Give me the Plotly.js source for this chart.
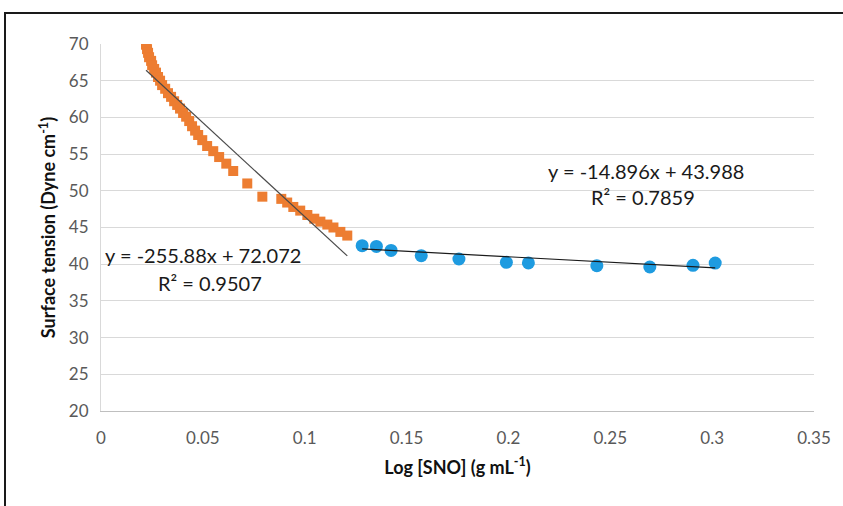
<!DOCTYPE html>
<html>
<head>
<meta charset="utf-8">
<script src="https://cdn.plot.ly/plotly-3.0.1.min.js"></script>
<style>
  html, body { margin: 0; padding: 0; background: #fff; overflow: hidden; }
  #chart { position: absolute; left: 0; top: 0; width: 843px; height: 506px; }
  #frame { position: absolute; left: 4px; top: 12px; width: 900px; height: 600px;
           border-top: 2px solid #1a1a1a; border-left: 2px solid #1a1a1a; pointer-events: none; }
</style>
</head>
<body>
<div id="chart"></div>
<div id="frame"></div>
<script>
// Series 1 (orange squares): Log[SNO] vs surface tension
const orangeX = [0.0221, 0.0226, 0.0231, 0.0236, 0.0246, 0.0251, 0.0261, 0.0270, 0.0280, 0.0290,
                 0.0300, 0.0315, 0.0329, 0.0344, 0.0359, 0.0374, 0.0388, 0.0403, 0.0418, 0.0433,
                 0.0447, 0.0462, 0.0477, 0.0497, 0.0521, 0.0551, 0.0580, 0.0615, 0.0649, 0.0718,
                 0.0792, 0.0885, 0.0914, 0.0944, 0.0978, 0.1013, 0.1047, 0.1077, 0.1111, 0.1141,
                 0.1175, 0.1209];
const orangeY = [69.9, 69.3, 68.8, 68.2, 67.7, 67.1, 66.6, 66.1, 65.5, 65.0,
                 64.4, 63.9, 63.3, 62.8, 62.2, 61.7, 61.2, 60.6, 60.1, 59.5,
                 58.8, 58.2, 57.6, 56.9, 56.1, 55.4, 54.6, 53.7, 52.7, 51.0,
                 49.2, 48.9, 48.4, 47.8, 47.3, 46.7, 46.2, 45.8, 45.4, 45.0,
                 44.4, 43.9];
// Series 2 (blue circles)
const blueX = [0.1282, 0.1352, 0.1424, 0.1572, 0.1757, 0.1990, 0.2098, 0.2434, 0.2694, 0.2906, 0.3015];
const blueY = [42.52, 42.42, 41.88, 41.16, 40.71, 40.25, 40.17, 39.80, 39.62, 39.84, 40.16];
// Linear trendlines as reported on the chart: [slope, intercept]
const orangeFit = [-255.88, 72.072];
const blueFit = [-14.896, 43.988];
const orangeLabel = ["y = -255.88x + 72.072", "R² = 0.9507"];
const blueLabel = ["y = -14.896x + 43.988", "R² = 0.7859"];
const xTicks = [0, 0.05, 0.1, 0.15, 0.2, 0.25, 0.3, 0.35];
const yTicks = [20, 25, 30, 35, 40, 45, 50, 55, 60, 65, 70];

function fitLine(xs, fit) {
  const x0 = Math.min(...xs), x1 = Math.max(...xs);
  return { x: [x0, x1], y: [fit[0] * x0 + fit[1], fit[0] * x1 + fit[1]] };
}
const oLine = fitLine(orangeX, orangeFit);
const bLine = fitLine(blueX, blueFit);

const FONT = 'Lato, "Open Sans", sans-serif';

const data = [
  { x: orangeX, y: orangeY, type: 'scatter', mode: 'markers',
    marker: { symbol: 'square', size: 10, color: '#ED7D31' } },
  { x: blueX, y: blueY, type: 'scatter', mode: 'markers',
    marker: { symbol: 'circle', size: 13, color: '#1E9BE0' } },
  { x: oLine.x, y: oLine.y, type: 'scatter', mode: 'lines',
    line: { color: '#4a4a4a', width: 1.2 } },
  { x: bLine.x, y: bLine.y, type: 'scatter', mode: 'lines',
    line: { color: '#1a1a1a', width: 1.2 } }
];

const layout = {
  width: 843, height: 506,
  margin: { l: 101, r: 29, t: 44, b: 95 },
  paper_bgcolor: '#fff', plot_bgcolor: '#fff',
  showlegend: false,
  font: { family: FONT, color: '#595959' },
  xaxis: {
    range: [0, 0.35], tickvals: xTicks, ticktext: xTicks.map(String),
    showgrid: false, zeroline: false,
    showline: true, linecolor: '#bfbfbf', linewidth: 1,
    ticks: '', ticklabelstandoff: 12,
    tickfont: { family: FONT, size: 17, color: '#595959' },
    title: { text: 'Log [SNO] (g mL<sup>-1</sup>)', standoff: 13,
             font: { family: FONT, size: 18, color: '#111', weight: 'bold' } }
  },
  yaxis: {
    range: [20, 70], tickvals: yTicks, ticktext: yTicks.map(String),
    showgrid: true, gridcolor: '#d9d9d9', gridwidth: 1,
    zeroline: false, showline: true, linecolor: '#d9d9d9', linewidth: 1,
    ticks: '', ticklabelstandoff: 8,
    tickfont: { family: FONT, size: 17, color: '#595959' },
    title: { text: 'Surface tension (Dyne cm<sup>-1</sup>)', standoff: 8,
             font: { family: FONT, size: 18, color: '#111', weight: 'bold' } }
  },
  annotations: [
    { x: 0.0503, y: 41.2, xref: 'x', yref: 'y', text: orangeLabel[0], showarrow: false,
      font: { family: FONT, size: 20, color: '#1a1a1a' } },
    { x: 0.0536, y: 37.5, xref: 'x', yref: 'y', text: orangeLabel[1], showarrow: false,
      font: { family: FONT, size: 20, color: '#1a1a1a' } },
    { x: 0.2675, y: 52.7, xref: 'x', yref: 'y', text: blueLabel[0], showarrow: false,
      font: { family: FONT, size: 20, color: '#1a1a1a' } },
    { x: 0.266, y: 49.2, xref: 'x', yref: 'y', text: blueLabel[1], showarrow: false,
      font: { family: FONT, size: 20, color: '#1a1a1a' } }
  ]
};

Plotly.newPlot('chart', data, layout, { displayModeBar: false, staticPlot: true });
</script>
</body>
</html>
